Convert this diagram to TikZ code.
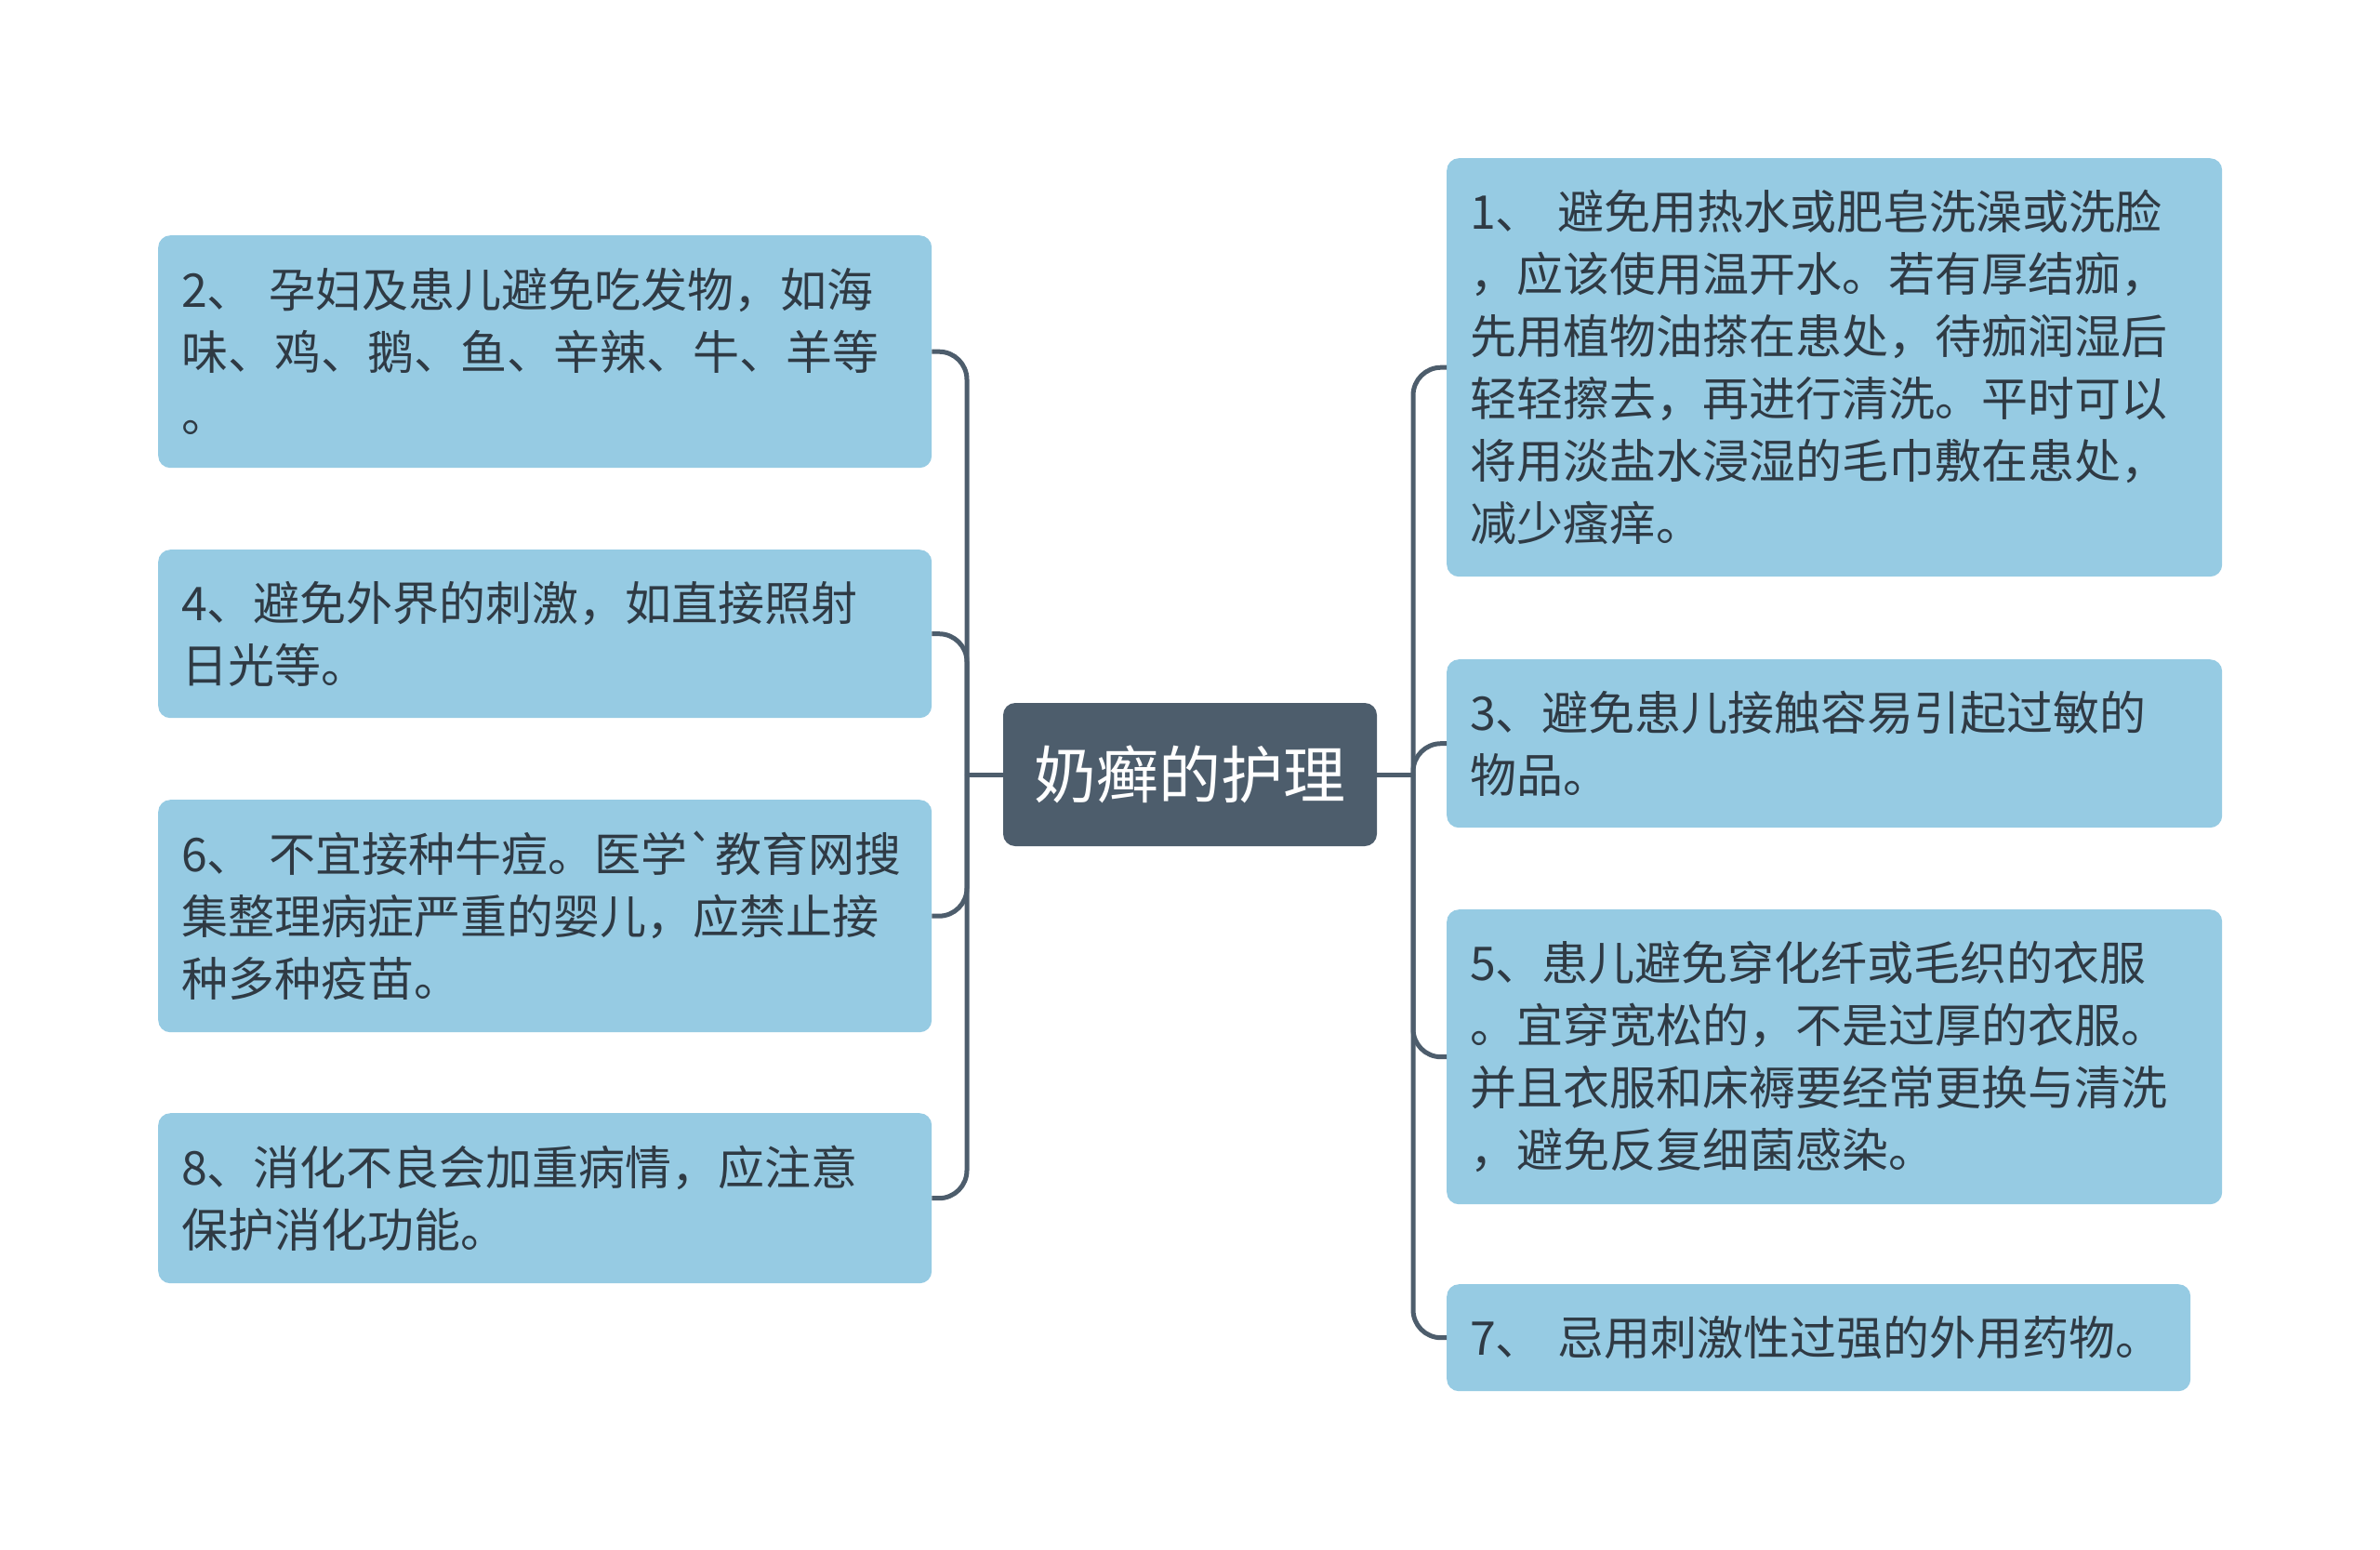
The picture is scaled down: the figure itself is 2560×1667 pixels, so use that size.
\documentclass[tikz,border=0pt]{standalone}
\usepackage{fontspec}
\setmainfont{Noto Sans CJK SC}[Ligatures=TeXOff]
\definecolor{boxfill}{HTML}{96CBE3}
\definecolor{hub}{HTML}{4D5D6C}
\definecolor{txt}{HTML}{2F3A44}
\begin{document}
\begin{tikzpicture}[x=1pt,y=-1pt,
  leaf/.style={rounded corners=13pt, fill=boxfill, text=txt, align=left,
    inner xsep=25pt, inner ysep=0pt, anchor=north west,
    font=\fontsize{50}{67}\selectfont},
  lleaf/.style={leaf, text width=782pt},
  rleaf/.style={leaf, text width=784pt},
  hubnode/.style={rounded corners=13pt, fill=hub, text=white,
    minimum width=402pt, minimum height=154pt, inner sep=0pt,
    font=\fontsize{67}{80}\selectfont},
  link/.style={draw=hub, line width=5pt, rounded corners=30pt}]
\useasboundingbox (0,0) rectangle (2560,1667);
\fill[white] (0,0) rectangle (2560,1667);

\node[hubnode] (c) at (1280,833) {奶癣的护理};

\node[lleaf, minimum height=250pt] (b2) at (170,253)
  {2、 孕妇及患儿避免吃发物，如海\\味、鸡、鹅、鱼、辛辣、牛、羊等\\。};
\node[lleaf, minimum height=181pt] (b4) at (170,591)
  {4、避免外界的刺激，如直接照射\\日光等。};
\node[lleaf, minimum height=250pt] (b6) at (170,860)
  {6、 不宜接种牛痘。医学\symbol{"60}教育网搜\\集整理病症严重的婴儿，应禁止接\\种多种疫苗。};
\node[lleaf, minimum height=183pt] (b8) at (170,1197)
  {8、消化不良会加重病情，应注意\\保护消化功能。};

\node[rleaf, minimum height=450pt] (b1) at (1556,170)
  {1、 避免用热水或肥皂洗澡或洗脸\\，应该使用温开水。若有厚结痂，\\先用植物油搽在患处，待痂润湿后\\轻轻擦去，再进行清洗。平时可以\\将用淡盐水浸湿的毛巾敷在患处，\\减少瘙痒。};
\node[rleaf, minimum height=181pt] (b3) at (1556,709)
  {3、避免患儿接触容易引起过敏的\\物品。};
\node[rleaf, minimum height=317pt] (b5) at (1556,978)
  {5、患儿避免穿化纤或毛织的衣服\\。宜穿宽松的，不是过厚的衣服。\\并且衣服和床褥要经常更换与清洗\\，避免反复细菌感染。};
\node[leaf, text width=750pt, minimum height=115pt] (b7) at (1556,1381)
  {7、 忌用刺激性过强的外用药物。};

\coordinate (jl) at (1040,833);
\coordinate (jr) at (1520,833);

\draw[link] (c.west) -- (jl);
\draw[link] (c.east) -- (jr);
\foreach \b in {b2,b4,b6,b8} \draw[link] (jl) |- (\b.east);
\foreach \b in {b1,b3,b5,b7} \draw[link] (jr) |- (\b.west);
\end{tikzpicture}
\end{document}
